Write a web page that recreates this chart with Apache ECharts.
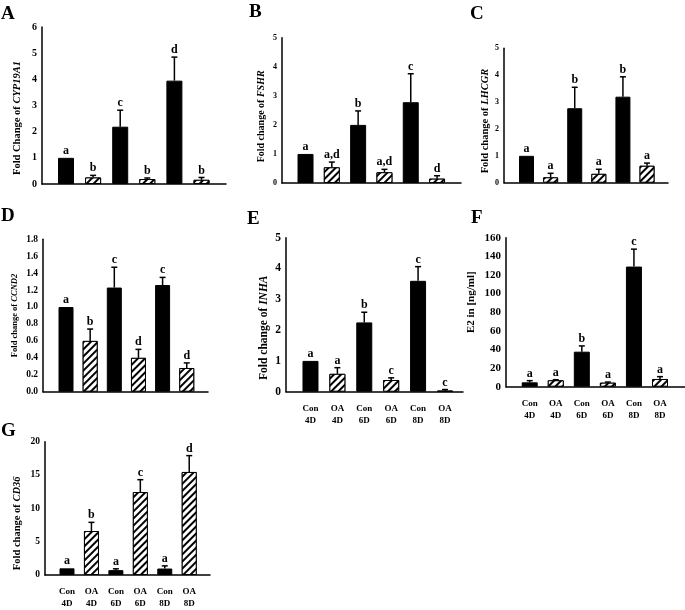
<!DOCTYPE html>
<html><head><meta charset="utf-8">
<script src="https://cdn.jsdelivr.net/npm/echarts@6/dist/echarts.min.js"></script>
<style>html,body{margin:0;padding:0;background:#fff}#c{width:685px;height:610px}</style>
</head><body><div id="c"></div>
<script>
// ---- data ----
const categories = ['Con\n4D', 'OA\n4D', 'Con\n6D', 'OA\n6D', 'Con\n8D', 'OA\n8D'];

const meanA = [1.0, 0.25, 2.19, 0.19, 3.95, 0.16];
const errA = [0, 0.08, 0.63, 0.04, 0.9, 0.09];
const lettersA = ['a', 'b', 'c', 'b', 'd', 'b'];

const meanB = [1.0, 0.54, 2.0, 0.37, 2.78, 0.15];
const errB = [0, 0.18, 0.48, 0.1, 0.98, 0.1];
const lettersB = ['a', 'a,d', 'b', 'a,d', 'c', 'd'];

const meanC = [1.0, 0.2, 2.77, 0.33, 3.2, 0.63];
const errC = [0, 0.15, 0.78, 0.17, 0.74, 0.1];
const lettersC = ['a', 'a', 'b', 'a', 'b', 'a'];

const meanD = [1.0, 0.6, 1.23, 0.4, 1.26, 0.28];
const errD = [0, 0.14, 0.24, 0.1, 0.09, 0.06];
const lettersD = ['a', 'b', 'c', 'd', 'c', 'd'];

const meanE = [1.0, 0.58, 2.25, 0.38, 3.6, 0.03];
const errE = [0, 0.2, 0.33, 0.07, 0.46, 0.04];
const lettersE = ['a', 'a', 'b', 'c', 'c', 'c'];

const meanF = [4.7, 6.9, 37.6, 4.3, 129, 8.3];
const errF = [1.8, 0.6, 6.2, 0.7, 18.7, 2.5];
const lettersF = ['a', 'a', 'b', 'a', 'c', 'a'];

const meanG = [1.0, 6.6, 0.73, 12.45, 0.97, 15.46];
const errG = [0, 1.3, 0.2, 1.85, 0.4, 2.45];
const lettersG = ['a', 'b', 'a', 'c', 'a', 'd'];

// ---- layout / style ----
const FONT = '"Liberation Serif", "Times New Roman", serif';
const panels = [
  {key:'A', mean:meanA, err:errA, letters:lettersA, yName:'Fold Change of {i|CYP19A1}', yMax:6, yInt:1, dec:0,
   grid:{left:42, top:27, width:184, height:157}, xMin:-0.886, xMax:5.904, barW:16, tickFs:10, nameFs:10.5, nameGap:19, namePad:25,
   title:{left:1, top:5}, showX:false},
  {key:'B', mean:meanB, err:errB, letters:lettersB, yName:'Fold change of {i|FSHR}', yMax:5, yInt:1, dec:0,
   grid:{left:282, top:37.7, width:179, height:145.3}, xMin:-0.894, xMax:5.91, barW:16, tickFs:8, nameFs:10, nameGap:16, namePad:12,
   title:{left:249, top:3}, showX:false},
  {key:'C', mean:meanC, err:errC, letters:lettersC, yName:'Fold change of {i|LHCGR}', yMax:5, yInt:1, dec:0,
   grid:{left:504, top:48.3, width:164, height:134.4}, xMin:-0.934, xMax:5.87, barW:15, tickFs:8, nameFs:10.5, nameGap:11, namePad:11,
   title:{left:470, top:5}, showX:false},
  {key:'D', mean:meanD, err:errD, letters:lettersD, yName:'Fold change of {i|CCND2}', yMax:1.8, yInt:0.2, dec:1,
   grid:{left:43, top:239.3, width:165, height:152.4}, xMin:-0.953, xMax:5.88, barW:15, tickFs:9.5, nameFs:8.5, nameGap:24, namePad:0,
   title:{left:1, top:207}, showX:false},
  {key:'E', mean:meanE, err:errE, letters:lettersE, yName:'Fold change of {i|INHA}', yMax:5, yInt:1, dec:0,
   grid:{left:286, top:237.7, width:177, height:154}, xMin:-0.91, xMax:5.67, barW:16, tickFs:11.5, nameFs:11.5, nameGap:16, namePad:26,
   title:{left:247, top:210}, showX:true},
  {key:'F', mean:meanF, err:errF, letters:lettersF, yName:'E2 in [ng/ml]', yMax:160, yInt:20, dec:0,
   grid:{left:506, top:237.7, width:179, height:149}, xMin:-0.91, xMax:5.96, barW:16, tickFs:11, nameFs:11, nameGap:29, namePad:-20,
   title:{left:471, top:209}, showX:true},
  {key:'G', mean:meanG, err:errG, letters:lettersG, yName:'Fold change of {i|CD36}', yMax:20, yInt:5, dec:0,
   grid:{left:45, top:441.7, width:165, height:136.6}, xMin:-0.9, xMax:5.85, barW:15, tickFs:9.5, nameFs:10.5, nameGap:22, namePad:30,
   title:{left:1, top:422}, showX:true}
];

const hatch = {
  symbol: 'rect', symbolSize: 1, color: '#000', backgroundColor: '#fff',
  dashArrayX: [1, 0], dashArrayY: [1.1, 2.6], rotation: -Math.PI / 4
};

const option = {
  animation: false,
  backgroundColor: '#fff',
  textStyle: {fontFamily: FONT},
  title: [], grid: [], xAxis: [], yAxis: [], series: []
};

panels.forEach((p, k) => {
  option.title.push({text: p.key, left: p.title.left, top: p.title.top, padding: 0,
    textStyle: {fontFamily: FONT, fontWeight: 'bold', fontSize: 19, color: '#000'}});
  option.grid.push(Object.assign({containLabel: false}, p.grid));
  option.xAxis.push({
    gridIndex: k, type: 'value', min: p.xMin, max: p.xMax,
    splitLine: {show: false}, axisTick: {show: false},
    axisLine: {show: true, onZero: false, lineStyle: {color: '#000', width: 1.5}},
    axisLabel: {show: p.showX, customValues: [0, 1, 2, 3, 4, 5], margin: 11,
      formatter: v => categories[Math.round(v)] || '',
      fontFamily: FONT, fontWeight: 'bold', fontSize: 9, lineHeight: 12, color: '#000'}
  });
  const pad = p.namePad >= 0 ? [0, p.namePad, 0, 0] : [0, 0, 0, -p.namePad];
  option.yAxis.push({
    gridIndex: k, type: 'value', min: 0, max: p.yMax, interval: p.yInt,
    splitLine: {show: false}, axisTick: {show: false},
    axisLine: {show: true, onZero: false, lineStyle: {color: '#000', width: 1.5}},
    axisLabel: {fontFamily: FONT, fontWeight: 'bold', fontSize: p.tickFs, color: '#000', margin: 5,
      formatter: v => v.toFixed(p.dec)},
    name: p.yName, nameLocation: 'middle', nameGap: p.nameGap,
    nameTextStyle: {fontFamily: FONT, fontWeight: 'bold', fontSize: p.nameFs, color: '#000',
      padding: pad,
      rich: {i: {fontFamily: FONT, fontWeight: 'bold', fontStyle: 'italic', fontSize: p.nameFs, color: '#000'}}}
  });
  option.series.push({
    type: 'bar', xAxisIndex: k, yAxisIndex: k, barWidth: p.barW,
    data: p.mean.map((m, i) => ({
      value: [i, m],
      itemStyle: i % 2 === 0
        ? {color: '#000', borderColor: '#000', borderWidth: 1}
        : {color: '#fff', borderColor: '#000', borderWidth: 1, decal: hatch}
    }))
  });
  option.series.push({
    type: 'custom', xAxisIndex: k, yAxisIndex: k, clip: false, z: 5,
    data: p.mean.map((m, i) => [i, m, p.err[i]]),
    renderItem: (params, api) => {
      const i = api.value(0), m = api.value(1), e = api.value(2);
      const base = api.coord([i, m]);
      const top = api.coord([i, m + e]);
      const ch = [];
      if (e > 0) {
        ch.push({type: 'line', shape: {x1: base[0], y1: base[1], x2: top[0], y2: top[1]},
          style: {stroke: '#000', lineWidth: 1.5}});
        ch.push({type: 'line', shape: {x1: top[0] - 3, y1: top[1], x2: top[0] + 3, y2: top[1]},
          style: {stroke: '#000', lineWidth: 1.5}});
      }
      ch.push({type: 'text', style: {text: p.letters[params.dataIndex], x: top[0], y: top[1] - 1,
        align: 'center', verticalAlign: 'bottom', fontFamily: FONT, fontWeight: 'bold', fontSize: 12, fill: '#000'}});
      return {type: 'group', children: ch};
    }
  });
});

const chart = echarts.init(document.getElementById('c'), null, {renderer: 'canvas'});
chart.setOption(option);
</script></body></html>
